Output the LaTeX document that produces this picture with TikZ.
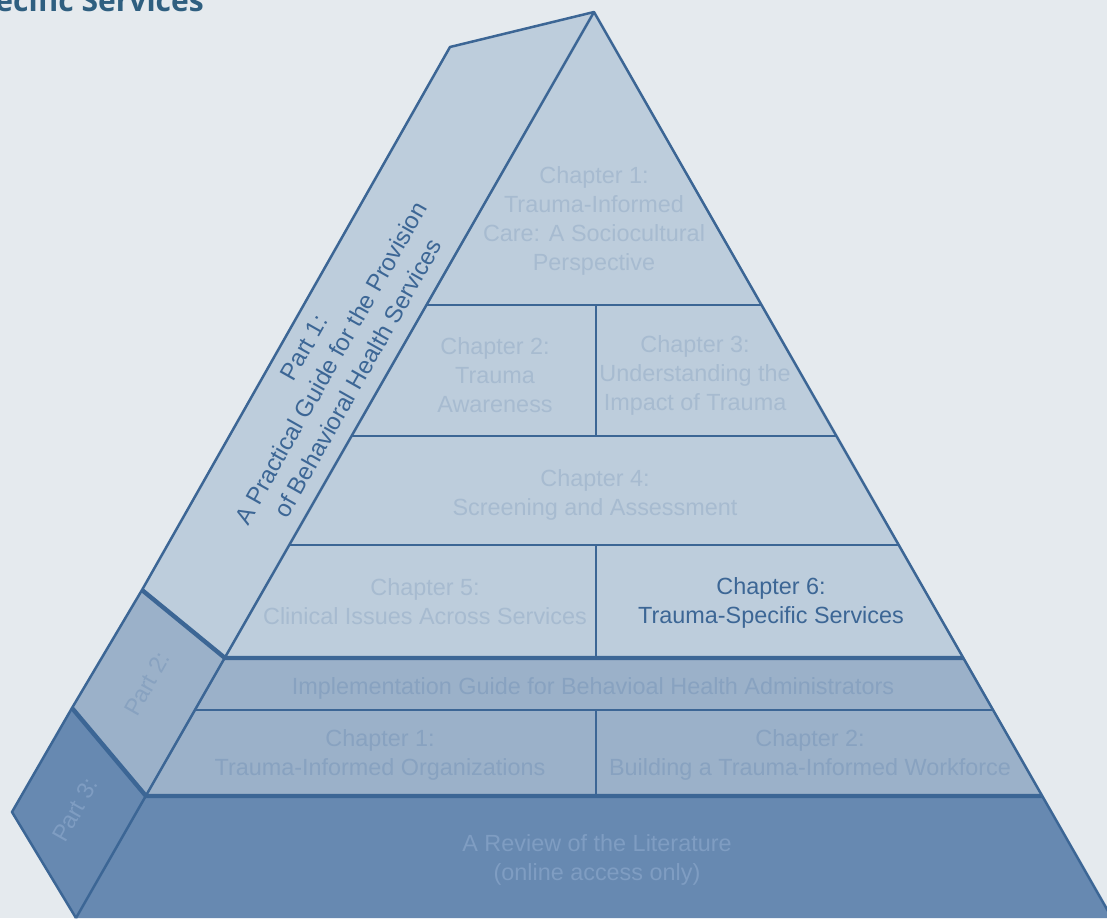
\documentclass[tikz,border=0pt]{standalone}
\usepackage{fontspec}
\setmainfont{Liberation Sans}
\newfontfamily\headfont{Open Sans}
\definecolor{bgcol}{HTML}{E5EAEE}
\definecolor{partone}{HTML}{BDCDDC}
\definecolor{parttwo}{HTML}{9BB1C9}
\definecolor{partthree}{HTML}{6789B1}
\definecolor{edgecol}{HTML}{3C6695}
\definecolor{txtone}{HTML}{A7BBD0}
\definecolor{txttwo}{HTML}{88A2C0}
\definecolor{txtthree}{HTML}{7F9DC2}
\definecolor{headcol}{HTML}{2F5F80}
\tikzset{
  edge/.style={draw=edgecol,line width=2.5pt,line join=round},
  thickedge/.style={draw=edgecol,line width=4.4pt,line join=round},
  chap/.style={align=center,inner sep=0pt,font=\fontsize{23.4}{29}\selectfont},
}
\begin{document}
\begin{tikzpicture}[x=1pt,y=-1pt]
  \useasboundingbox (0,0) rectangle (1107,918);
  \fill[bgcol] (0,0) rectangle (1107,918);
  % corners
  \coordinate (apex) at (594,12);
  \coordinate (back) at (450,47);
  \coordinate (s1) at (142,590);
  \coordinate (f1) at (225,658);
  \coordinate (r1) at (963,658);
  \coordinate (s2) at (72,708);
  \coordinate (f2) at (146,796);
  \coordinate (r2) at (1042,796);
  \coordinate (s3) at (12,812);
  \coordinate (f3) at (76,918);
  \coordinate (r3) at (1112,918);
  % part 1
  \fill[partone] (apex) -- (back) -- (s1) -- (f1) -- cycle;
  \fill[partone] (apex) -- (r1) -- (f1) -- cycle;
  % part 2
  \fill[parttwo] (s1) -- (f1) -- (f2) -- (s2) -- cycle;
  \fill[parttwo] (f1) -- (r1) -- (r2) -- (f2) -- cycle;
  % part 3
  \fill[partthree] (s2) -- (f2) -- (f3) -- (s3) -- cycle;
  \fill[partthree] (f2) -- (r2) -- (r3) -- (f3) -- cycle;
  % outline
  \draw[edge] (f3) -- (s3) -- (s2) -- (s1) -- (back) -- (apex) -- (r3);
  \draw[edge] (apex) -- (f3);
  % rows
  \draw[edge] (426.6,305) -- (761.4,305);
  \draw[edge] (351.7,436) -- (836.3,436);
  \draw[edge] (289.4,545) -- (898.6,545);
  \draw[edge] (195.2,710) -- (992.8,710);
  \draw[edge] (596,305) -- (596,436);
  \draw[edge] (596,545) -- (596,658);
  \draw[edge] (596,710) -- (596,796);
  \draw[thickedge] (s1) -- (f1) -- (r1);
  \draw[thickedge] (s2) -- (f2) -- (r2);
  % texts
  \node[chap,text=txtone] (ch1) at (594,221) {Chapter 1:\\Trauma-Informed\\Care: A Sociocultural\\Perspective};
  \node[chap,text=txtone] (ch2) at (495,375) {Chapter 2:\\Trauma\\Awareness};
  \node[chap,text=txtone] (ch3) at (695,375) {Chapter 3:\\Understanding the\\Impact of Trauma};
  \node[chap,text=txtone] (ch4) at (595,495) {Chapter 4:\\Screening and Assessment};
  \node[chap,text=txtone] (ch5) at (425,602) {Chapter 5:\\Clinical Issues Across Services};
  \node[chap,text=edgecol] (ch6) at (771,603) {Chapter 6:\\Trauma-Specific Services};
  \node[chap,text=txttwo] (impl) at (593,688) {Implementation Guide for Behavioal Health Administrators};
  \node[chap,text=txttwo] (org) at (380,755) {Chapter 1:\\Trauma-Informed Organizations};
  \node[chap,text=txttwo] (work) at (810,755) {Chapter 2:\\Building a Trauma-Informed Workforce};
  \node[chap,text=txtthree] (lit) at (597,860) {A Review of the Literature\\(online access only)};
  \node[chap,text=edgecol,rotate=60.5,font=\fontsize{24}{31}\selectfont] (part1) at (331,363) {Part 1:\\A Practical Guide for the Provision\\of Behavioral Health Services};
  \node[chap,text=txttwo,rotate=60.5] (part2) at (147,684) {Part 2:};
  \node[chap,text=txtthree,rotate=60.5] (part3) at (75,810) {Part 3:};
  \node[anchor=base east,inner sep=0pt,text=headcol,font=\headfont\bfseries\fontsize{30}{34}\selectfont] (head) at (204,11) {Trauma-Specific Services};
\end{tikzpicture}
\end{document}
